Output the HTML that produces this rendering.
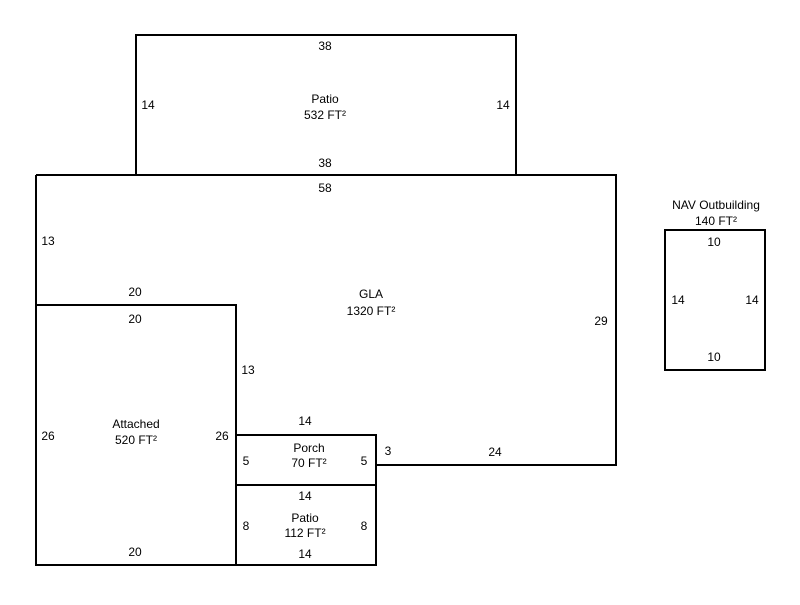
<!DOCTYPE html>
<html><head><style>body{margin:0;background:#fff}</style></head><body>
<svg width="800" height="600" xmlns="http://www.w3.org/2000/svg" font-family="Liberation Sans, Arial, sans-serif" font-size="12" fill="#000">
<g fill="none" stroke="#000" stroke-width="2">
<rect x="136" y="35" width="380" height="140"/>
<polyline points="36,175 616,175 616,465 376,465 376,435"/>
<line x1="36" y1="175" x2="36" y2="305"/>
<rect x="36" y="305" width="200" height="260"/>
<rect x="236" y="435" width="140" height="50"/>
<rect x="236" y="485" width="140" height="80"/>
<rect x="665" y="230" width="100" height="140"/>
</g>
<g text-anchor="middle">
<text x="325" y="50">38</text>
<text x="148" y="109">14</text>
<text x="503" y="109">14</text>
<text x="325" y="103">Patio</text>
<text x="325" y="119">532 FT²</text>
<text x="325" y="167">38</text>
<text x="325" y="192">58</text>
<text x="48" y="245">13</text>
<text x="135" y="296">20</text>
<text x="135" y="323">20</text>
<text x="371" y="298">GLA</text>
<text x="371" y="315">1320 FT²</text>
<text x="601" y="325">29</text>
<text x="248" y="374">13</text>
<text x="48" y="440">26</text>
<text x="136" y="428">Attached</text>
<text x="136" y="444">520 FT²</text>
<text x="222" y="440">26</text>
<text x="305" y="425">14</text>
<text x="309" y="452">Porch</text>
<text x="309" y="467">70 FT²</text>
<text x="246" y="465">5</text>
<text x="364" y="465">5</text>
<text x="388" y="455">3</text>
<text x="495" y="456">24</text>
<text x="305" y="500">14</text>
<text x="246" y="530">8</text>
<text x="364" y="530">8</text>
<text x="305" y="522">Patio</text>
<text x="305" y="537">112 FT²</text>
<text x="135" y="556">20</text>
<text x="305" y="558">14</text>
<text x="716" y="209">NAV Outbuilding</text>
<text x="716" y="225">140 FT²</text>
<text x="714" y="246">10</text>
<text x="678" y="304">14</text>
<text x="752" y="304">14</text>
<text x="714" y="361">10</text>
</g>
</svg>
</body></html>
